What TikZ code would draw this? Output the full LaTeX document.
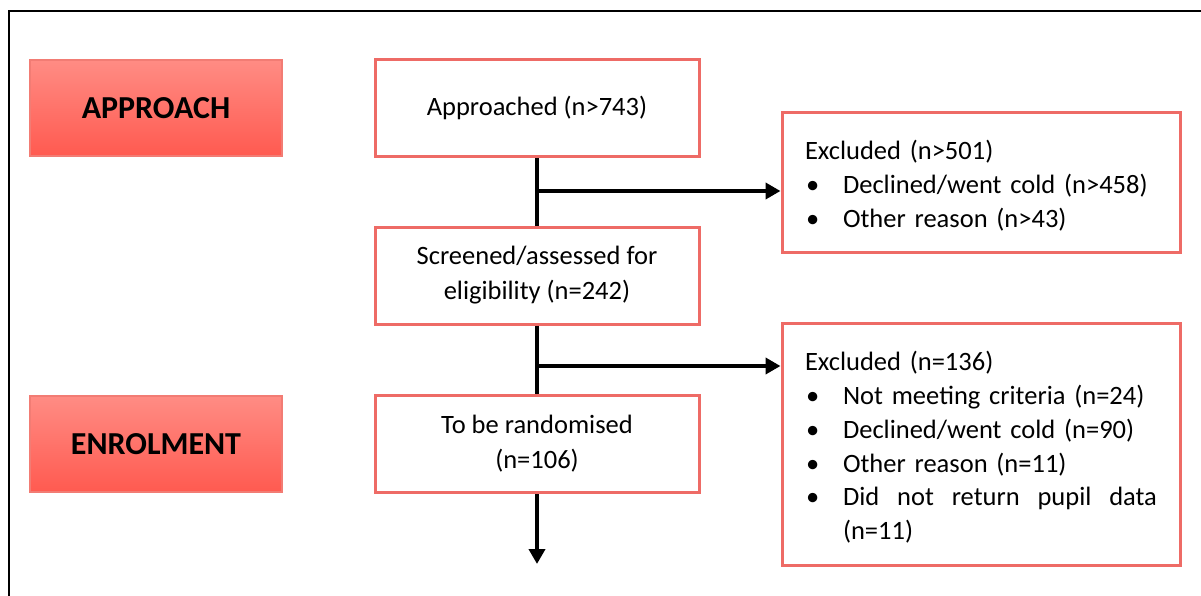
\documentclass[tikz,border=0pt]{standalone}
\usepackage{fontspec}
\setmainfont{Carlito}
\usetikzlibrary{arrows.meta}
\definecolor{boxred}{HTML}{EE6B66}
\definecolor{gradtop}{HTML}{FF8C84}
\definecolor{gradbot}{HTML}{FF5A50}
\definecolor{gradedge}{HTML}{F27C74}
\newcommand{\bul}[1]{\makebox[38pt][l]{\hspace{1pt}\textbullet}#1}
\begin{document}
\begin{tikzpicture}[x=1pt,y=-1pt,
  phase/.style={draw=gradedge, line width=1.2pt, top color=gradtop, bottom color=gradbot,
    minimum width=252pt, minimum height=96pt, inner sep=0pt,
    font=\fontsize{32}{36}\selectfont\bfseries},
  flow/.style={draw=boxred, line width=3pt, fill=white, minimum width=324pt,
    minimum height=97pt, inner sep=0pt, align=center,
    font=\fontsize{26.5}{35}\selectfont},
  excl/.style={draw=boxred, line width=3pt, fill=white, text width=352pt,
    inner xsep=23pt, inner ysep=0pt, align=left,
    font=\fontsize{26.5}{33.7}\selectfont},
  conn/.style={line width=4.5pt},
  arr/.style={line width=4.5pt, -{Triangle[width=16pt,length=15pt]}}]
\useasboundingbox (0,0) rectangle (1201,596);
\draw[line width=2pt] (9,640) -- (9,11) -- (1240,11);

\node[phase] (approach) at (156,108) {APPROACH};
\node[phase] (enrol) at (156,444) {ENROLMENT};

\node[flow] (appr) at (537,108) {Approached (n>743)};
\node[flow] (scr) at (537,275.5) {Screened/assessed for\\eligibility (n=242)};
\node[flow] (rand) at (537,444) {To be randomised\\(n=106)};

\node[excl, minimum height=139pt] (ex1) at (981,182.5)
  {\rule{0pt}{26pt}Excluded (n>501)\\
   \bul{Declined/went cold (n>458)}\\
   \bul{Other reason (n>43)}};
\node[excl, minimum height=242pt] (ex2) at (981,444)
  {\rule{0pt}{26pt}Excluded (n=136)\\
   \bul{Not meeting criteria (n=24)}\\
   \bul{Declined/went cold (n=90)}\\
   \bul{Other reason (n=11)}\\
   \bul{\hbox to 314pt{Did\hfill not\hfill return\hfill pupil\hfill data}}\\
   \hspace*{38pt}(n=11)};

\coordinate (j1) at (537,191);
\coordinate (j2) at (537,366);
\coordinate (end) at (537,564);

\draw[conn] (appr.south) -- (scr.north);
\draw[arr] (j1) -- (j1 -| ex1.west);
\draw[conn] (scr.south) -- (rand.north);
\draw[arr] (j2) -- (j2 -| ex2.west);
\draw[arr] (rand.south) -- (end);
\end{tikzpicture}
\end{document}
